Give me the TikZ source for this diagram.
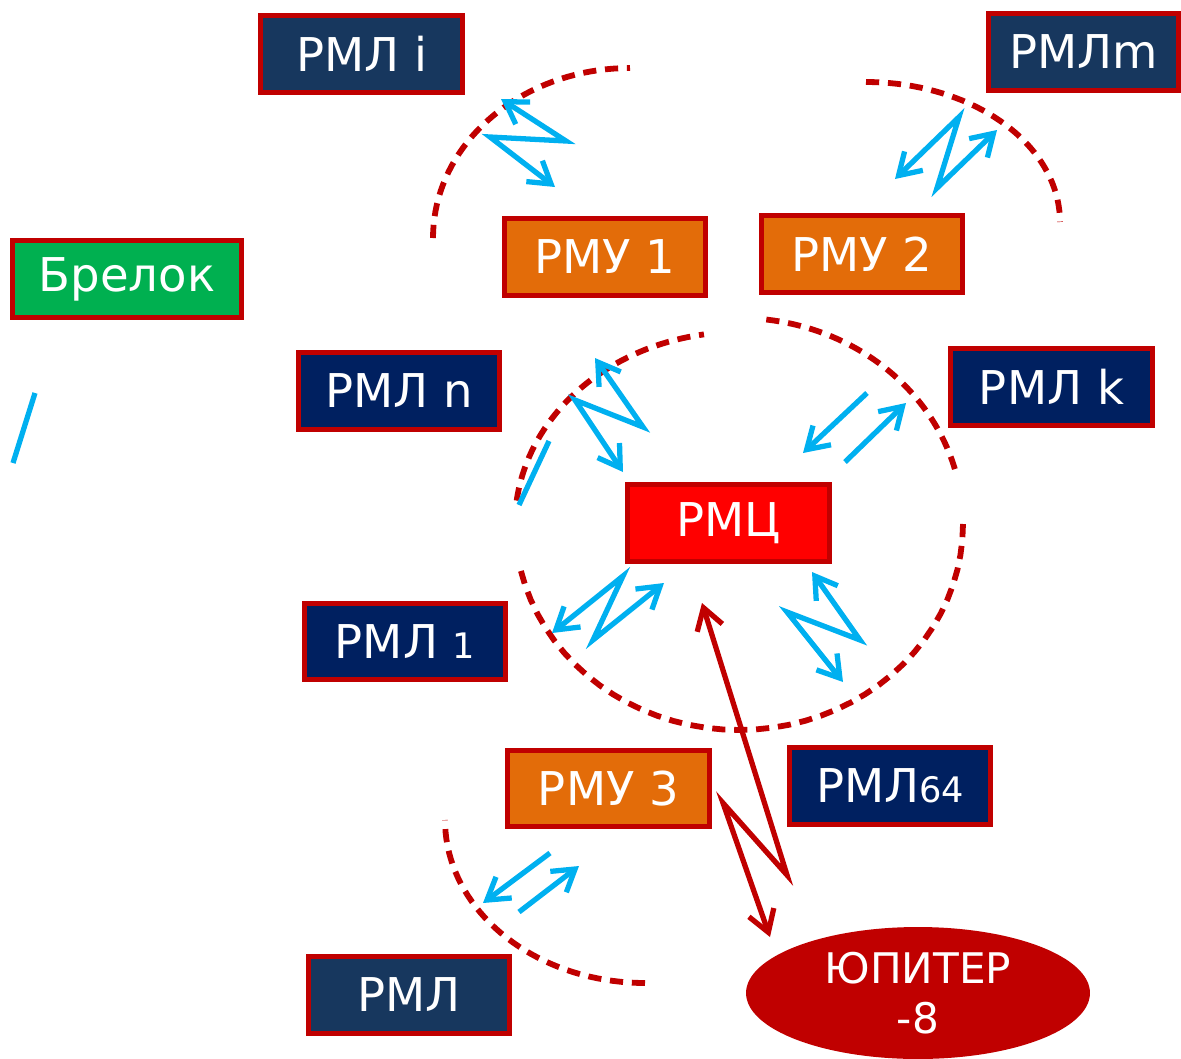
\documentclass[tikz,border=0pt]{standalone}
\usepackage{fontspec}
\setmainfont{DejaVu Sans}
\usetikzlibrary{arrows.meta,shapes.geometric}
\definecolor{boxred}{HTML}{C00000}
\definecolor{slateblue}{HTML}{17375E}
\definecolor{navy}{HTML}{002060}
\definecolor{rmuorange}{HTML}{E36C09}
\definecolor{keygreen}{HTML}{00B050}
\definecolor{boltblue}{HTML}{00B0F0}
\tikzset{
  unit/.style={rectangle, draw=boxred, line width=3pt, text=white,
    minimum width=4.03cm, minimum height=1.53cm, inner sep=0pt,
    font=\fontsize{26.5}{31}\selectfont},
  bolt/.style={boltblue, line width=3pt, >={Straight Barb[length=12pt,width=15pt]}, <->},
  boltone/.style={boltblue, line width=3pt, >={Straight Barb[length=12pt,width=15pt]}, ->},
  zone/.style={boxred, line width=3.3pt, dash pattern=on 7.5pt off 5pt, samples=40},
}

\begin{document}
\begin{tikzpicture}[x=0.02cm, y=-0.02cm]
                \useasboundingbox (0,0) rectangle (1181,1059);
                % zones
                \draw[zone, domain=180:270] plot ({630+197*cos(\x)},{238+170*sin(\x)});
                \draw[zone, domain=270:360] plot ({866+194*cos(\x)},{222+140*sin(\x)});
                \draw[zone, domain=187:261] plot ({739+224*cos(\x)},{524+192*sin(\x)});
                \draw[zone, domain=0:167] plot ({739+224*cos(\x)},{524+206*sin(\x)});
                \draw[zone, domain=277:345] plot ({739+224*cos(\x)},{524+206*sin(\x)});
                \draw[zone, domain=90:180] plot ({645+200*cos(\x)},{820+163*sin(\x)});
                % units
                \node[unit, fill=slateblue] (rmli) at (361.5,54) {РМЛ i};
                \node[unit, fill=slateblue, minimum width=3.8cm] (rmlm) at (1083.5,52) {РМЛm};
                \node[unit, fill=rmuorange] (rmu1) at (605,257) {РМУ 1};
                \node[unit, fill=rmuorange] (rmu2) at (862,254) {РМУ 2};
                \node[unit, fill=keygreen, minimum width=4.57cm] (key) at (127,279) {Брелок};
                \node[unit, fill=navy] (rmln) at (399,391) {РМЛ n};
                \node[unit, fill=navy] (rmlk) at (1051.5,387) {РМЛ k};
                \node[unit, fill=red] (rmc) at (728.5,523) {РМЦ};
                \node[unit, fill=navy] (rml1) at (405,641.5) {РМЛ {\fontsize{20}{23}\selectfont 1}};
                \node[unit, fill=navy] (rml64) at (890,786) {РМЛ{\fontsize{20}{23}\selectfont 64}};
                \node[unit, fill=rmuorange] (rmu3) at (608.5,788.5) {РМУ 3};
                \node[unit, fill=slateblue] (rml) at (409,995) {РМЛ};
                \node[ellipse, fill=boxred, minimum width=6.88cm, minimum height=2.64cm,
                  inner sep=0pt, text=white, align=center,
                  font=\fontsize{24}{28.5}\selectfont] (jupiter) at (918,993) {ЮПИТЕР\\-8};
                % radio links
                \draw[bolt] (501,99) -- (566,141) -- (490,137) -- (555,187);
                \draw[bolt] (895,179) -- (959,117) -- (937,188) -- (997,130);
                \draw[bolt] (595,358) -- (643,427) -- (575,400) -- (623,472);
                \draw[boltone] (867,393) -- (803,453);
                \draw[boltone] (845,462) -- (906,403);
                \draw[bolt] (552,633) -- (623,576) -- (593,640) -- (664,583);
                \draw[bolt] (812,572) -- (860,640) -- (787,612) -- (843,682);
                \draw[boltone] (550,853) -- (483,903);
                \draw[boltone] (519,912) -- (579,866);
                \draw[bolt, boxred] (702,603) -- (787,875) -- (723,803) -- (770,937);
                \draw[boltblue, line width=3pt] (35,393) -- (13,463);
                \draw[boltblue, line width=3pt] (549,441) -- (519,505);
            \end{tikzpicture}
\end{document}
